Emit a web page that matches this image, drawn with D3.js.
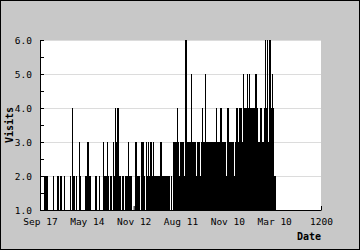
<!DOCTYPE html>
<html>
<head>
<meta charset="utf-8">
<script src="https://cdn.jsdelivr.net/npm/d3@7"></script>
<style>
    body { margin: 0; }
    svg { display: block; }
</style>
</head>
<body>
<script>
// Visits per day, one entry per bar (left to right)
var visits = [
    1, 1, 1, 2, 2, 2, 2, 1, 1, 1, 1, 1, 2, 1, 1, 1, 2, 2, 1, 2,
    2, 1, 1, 2, 1, 1, 1, 1, 1, 2, 1, 4, 2, 2, 1, 2, 1, 1, 3, 2,
    1, 1, 1, 1, 2, 2, 3, 3, 2, 2, 1, 1, 1, 1, 2, 2, 1, 1, 2, 1,
    1, 1, 3, 2, 2, 2, 3, 2, 1, 2, 2, 1, 3, 2, 4, 3, 4, 4, 2, 2,
    1, 2, 2, 1, 2, 2, 2, 3, 2, 2, 2, 1, 1, 1, 3, 3, 2, 2, 2, 1,
    3, 3, 3, 2, 1, 3, 2, 3, 2, 3, 3, 2, 3, 2, 2, 2, 2, 2, 2, 3,
    3, 2, 2, 2, 2, 2, 2, 2, 2, 1, 2, 1, 3, 3, 3, 3, 4, 3, 2, 3,
    3, 3, 3, 2, 6, 6, 3, 3, 3, 3, 5, 3, 3, 3, 3, 2, 3, 3, 3, 2,
    3, 4, 3, 3, 5, 3, 3, 3, 3, 3, 3, 3, 3, 3, 3, 4, 3, 3, 3, 4,
    4, 3, 3, 3, 3, 2, 4, 4, 3, 3, 3, 3, 3, 2, 3, 4, 4, 3, 4, 4,
    4, 3, 5, 4, 4, 4, 5, 4, 5, 4, 4, 4, 4, 4, 5, 5, 4, 3, 3, 4,
    4, 3, 3, 4, 6, 4, 6, 3, 6, 6, 4, 5, 4, 2, 2
];
var daysPerBar = 4.27;
var firstDay = 4.27;

var xTicks = [0, 200, 400, 600, 800, 1000, 1200];
var xTickLabels = ["Sep 17", "May 14", "Nov 12", "Aug 11", "Nov 10",
    "Mar 10", "1200"];
var yTicks = [1, 2, 3, 4, 5, 6];

var W = 360, H = 250;
var margin = {top: 40, right: 39, bottom: 40, left: 40},
    width = W - margin.left - margin.right,
    height = H - margin.top - margin.bottom;

var svg = d3.select("body").append("svg")
    .attr("width", W)
    .attr("height", H);

// gray frame with black border
svg.append("rect")
    .attr("x", 0.5).attr("y", 0.5)
    .attr("width", W - 1).attr("height", H - 1)
    .attr("fill", "#c8c8c8")
    .attr("stroke", "#000");

var g = svg.append("g")
    .attr("transform", "translate(" + margin.left + "," + margin.top + ")");

g.append("rect")
    .attr("width", width).attr("height", height)
    .attr("fill", "#fff");

var xScale = d3.scaleLinear().domain([0, 1200]).range([0, width]);
var yScale = d3.scaleLinear().domain([1, 6]).range([height, 0]);

// horizontal grid
g.selectAll("line.grid")
    .data(yTicks.slice(1))
    .enter().append("line")
    .attr("class", "grid")
    .attr("x1", 0).attr("x2", width)
    .attr("y1", function(d) { return Math.round(yScale(d)) + 0.5; })
    .attr("y2", function(d) { return Math.round(yScale(d)) + 0.5; })
    .attr("stroke", "#dcdcdc");

// bars, all start from the 1.0 baseline
g.selectAll("rect.bar")
    .data(visits)
    .enter().append("rect")
    .attr("class", "bar")
    .attr("x", function(d, i) { return xScale(firstDay + i * daysPerBar); })
    .attr("width", xScale(daysPerBar) - xScale(0))
    .attr("y", function(d) { return yScale(d); })
    .attr("height", function(d) { return height - yScale(d); })
    .attr("fill", "#000")
    .attr("shape-rendering", "crispEdges");

var font = "'DejaVu Sans Mono', monospace";

var xAxis = d3.axisBottom(xScale)
    .tickValues(xTicks)
    .tickFormat(function(d, i) { return xTickLabels[i]; })
    .tickSizeInner(-4).tickSizeOuter(0).tickPadding(8);

var yAxis = d3.axisLeft(yScale)
    .tickValues(yTicks)
    .tickFormat(d3.format(".1f"))
    .tickSizeInner(-4).tickSizeOuter(0).tickPadding(8);

// minor ticks at the half units
var yMinor = d3.axisLeft(yScale)
    .tickValues([1.5, 2.5, 3.5, 4.5, 5.5])
    .tickFormat("")
    .tickSizeInner(-4).tickSizeOuter(0);

[g.append("g").attr("transform", "translate(0," + height + ")").call(xAxis),
 g.append("g").call(yAxis),
 g.append("g").call(yMinor)].forEach(function(ax) {
    ax.attr("font-family", font).attr("font-size", "9.5px");
    ax.selectAll("text").attr("fill", "#000");
    ax.selectAll("line").attr("stroke", "#000");
    ax.select(".domain").attr("stroke", "#000");
});

// axis titles
svg.append("text")
    .attr("transform", "translate(13," + (margin.top + height / 2) + ")rotate(-90)")
    .attr("text-anchor", "middle")
    .attr("font-family", font)
    .attr("font-size", "10px")
    .attr("font-weight", "bold")
    .text("Visits");

svg.append("text")
    .attr("x", margin.left + width)
    .attr("y", 240)
    .attr("text-anchor", "end")
    .attr("font-family", font)
    .attr("font-size", "10px")
    .attr("font-weight", "bold")
    .text("Date");
</script>
</body>
</html>
